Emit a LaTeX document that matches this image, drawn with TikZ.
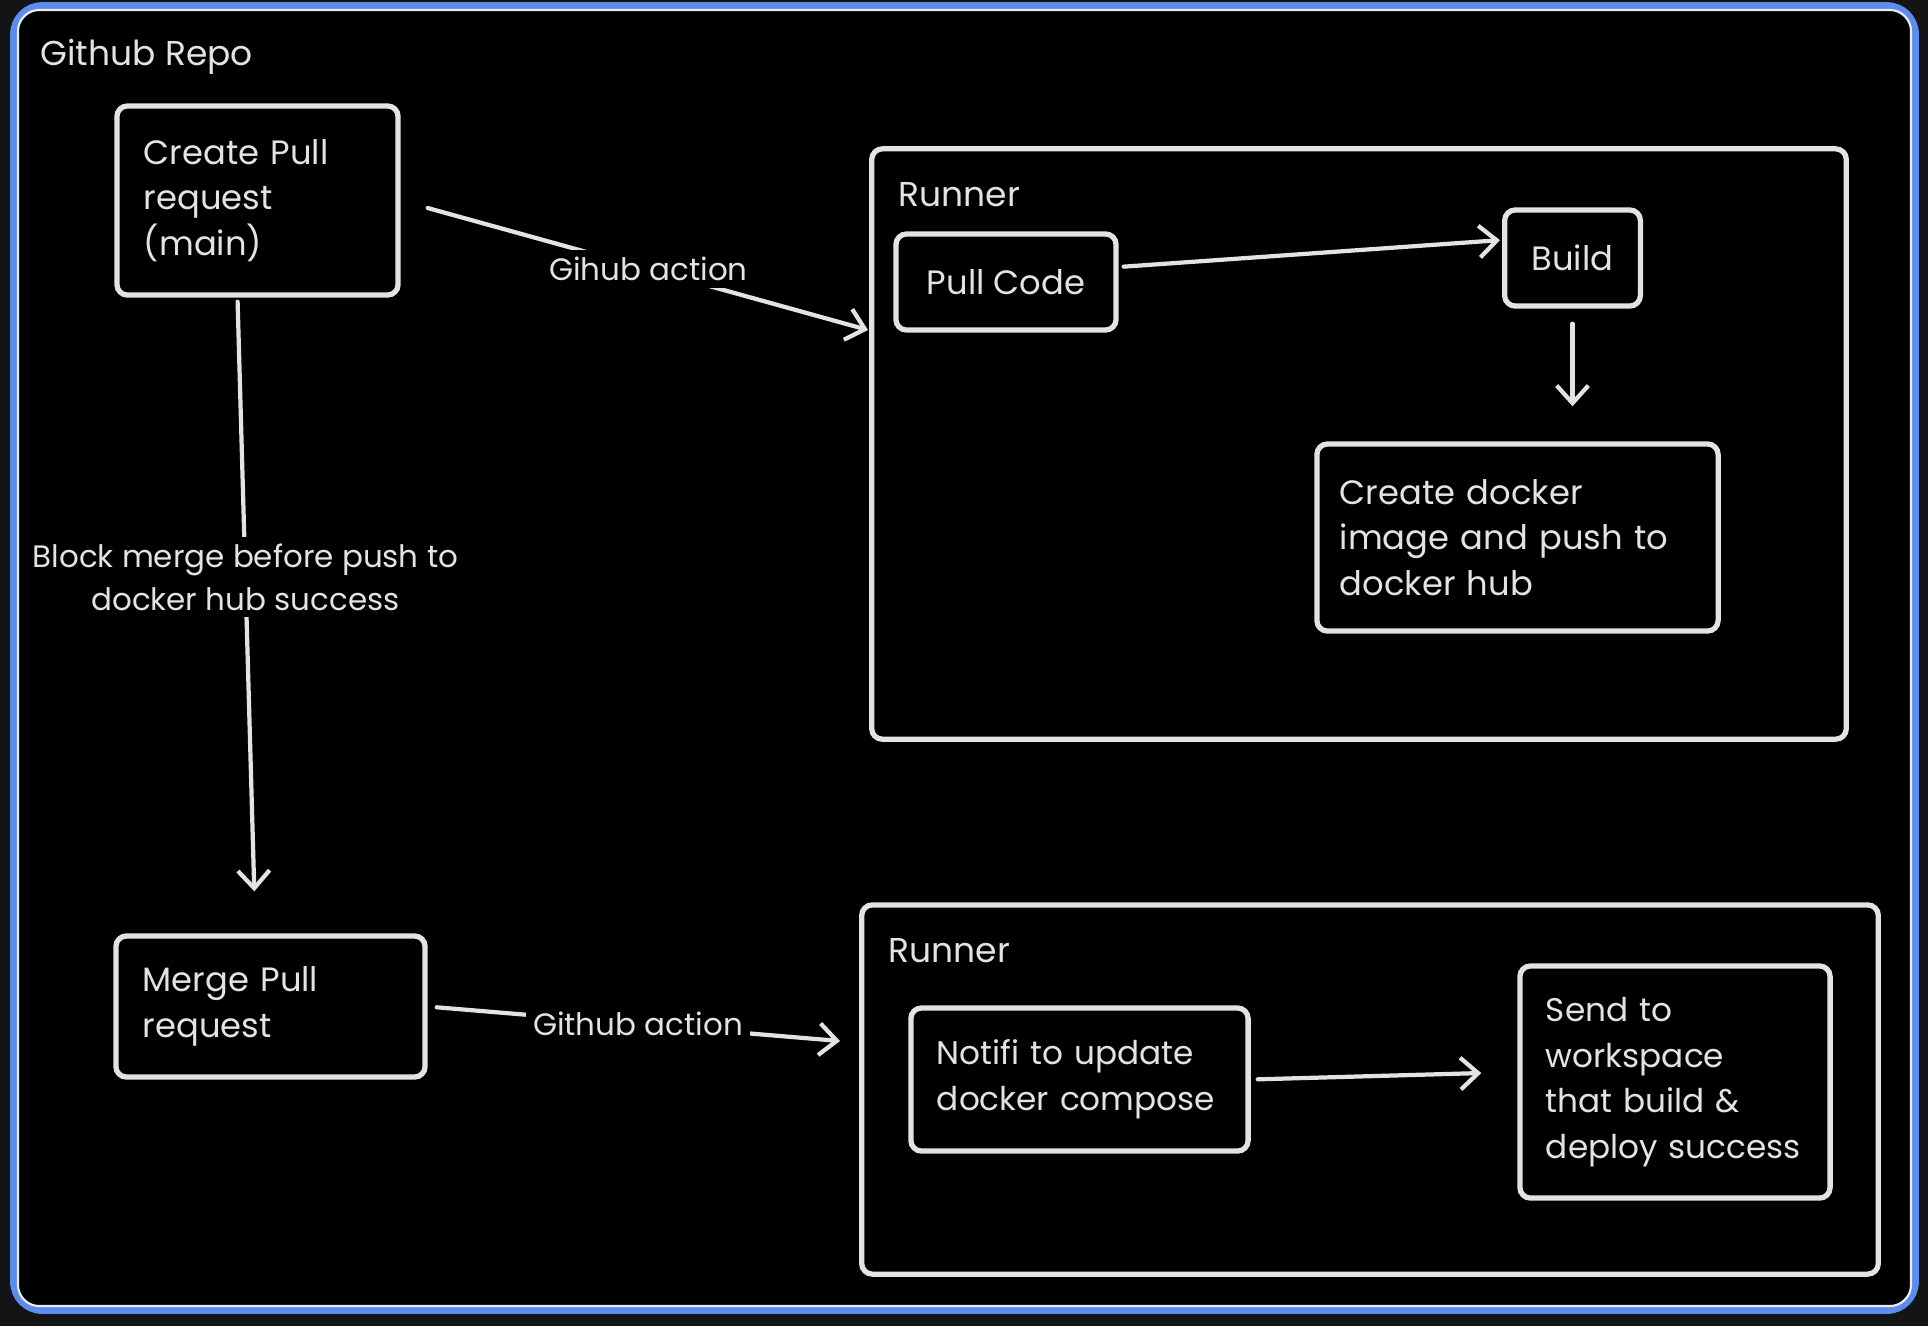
\documentclass[tikz,border=0pt]{standalone}
\usepackage{fontspec}
\setmainfont{Poppins}
\usetikzlibrary{arrows.meta}
\definecolor{chalk}{HTML}{E3E3E3}
\definecolor{frameblue}{HTML}{5B8DEF}
\definecolor{outside}{HTML}{141416}
\tikzset{
        flow box/.style={
          draw=chalk, line width=1.5pt, rounded corners=3pt,
          text=chalk, align=left, inner xsep=0.27cm,
          execute at begin node={\hyphenpenalty=10000},
          font=\fontsize{9.6pt}{13pt}\selectfont
          },
        small text/.style={font=\fontsize{9.3pt}{13pt}\selectfont},
        runner frame/.style={
          draw=chalk, line width=1.5pt, rounded corners=3pt, inner sep=0pt
          },
        frame title/.style={
          text=chalk, anchor=base west, inner sep=0pt,
          font=\fontsize{9.8pt}{13pt}\selectfont
          },
        flow arrow/.style={
          draw=chalk, line width=1.2pt, line cap=round,
          -{Straight Barb[length=5pt, width=9pt, line width=1.2pt]}
          },
        flow label/.style={
          fill=black, text=chalk, align=center, inner sep=2pt,
          font=\fontsize{8.8pt}{12pt}\selectfont
          },
}

\begin{document}
\begin{tikzpicture}[x={(0.01cm,0)}, y={(0,-0.01cm)}]
      \useasboundingbox[fill=outside] (0,0) rectangle (1928,1326);
      % GITHUB REPO FRAME
      \draw[frameblue, line width=2.2pt, fill=black, rounded corners=8pt] (14,6) rectangle (1915,1310);
      \draw[chalk!70, line width=0.6pt, rounded corners=6pt] (18,10) rectangle (1911,1306);
      \node[frame title] (repo) at (40,65) {Github Repo};

      % LEFT COLUMN
      \node[flow box, text width=2.27cm, minimum height=1.89cm] (create) at (257.5,200.5) {Create Pull\\request\\(main)};
      \node[flow box, text width=2.55cm, minimum height=1.41cm] (merge) at (270.5,1006.5) {Merge Pull\\request};

      % RUNNER (build)
      \node[runner frame, minimum width=9.74cm, minimum height=5.90cm] (runnerA) at (1359,444) {};
      \node[frame title] at (898,206) {Runner};
      \node[flow box, align=center, minimum width=2.20cm, minimum height=0.96cm] (pull) at (1006,282) {Pull Code};
      \node[flow box, align=center, minimum width=1.35cm, minimum height=0.96cm] (build) at (1572.5,258) {Build};
      \node[flow box, inner xsep=0.23cm, text width=3.55cm, minimum height=1.87cm] (docker) at (1517.5,537.5) {Create docker\\image and push to\\docker hub};

      % RUNNER (deploy)
      \node[runner frame, minimum width=10.16cm, minimum height=3.69cm] (runnerB) at (1370,1089.5) {};
      \node[frame title] at (888,962) {Runner};
      \node[flow box, small text, inner xsep=0.26cm, text width=2.85cm, minimum height=1.43cm] (notify) at (1079.5,1079.5) {Notifi to update\\docker compose};
      \node[flow box, small text, inner xsep=0.26cm, text width=2.58cm, minimum height=2.32cm] (send) at (1675,1082) {Send to\\workspace\\that build \&\\deploy success};

      % WIRING
      \coordinate (hookA) at (868,330);
      \coordinate (hookB) at (840,1041);
      \draw[flow arrow, shorten <=0.28cm] (create.east) -- (hookA) node[flow label, pos=0.53] {Gihub action};
      \draw[flow arrow, shorten <=0.09cm] (merge.east) -- (hookB) node[flow label, pos=0.51] {Github action};
      \draw[flow arrow, shorten <=0.05cm, shorten >=0.02cm] ([yshift=0.15cm]pull.east) -- ([yshift=0.18cm]build.west);
      \draw[flow arrow, shorten <=0.15cm, shorten >=0.35cm] (build.south) -- (build.south |- docker.north);
      \draw[flow arrow, shorten <=0.04cm, shorten >=0.42cm] ([xshift=-0.2cm]create.south) -- ([xshift=-0.15cm]merge.north)
        node[flow label, pos=0.44] {Block merge before push to\\docker hub success};
      \draw[flow arrow, shorten <=0.07cm, shorten >=0.36cm] (notify.east) -- ([yshift=0.1cm]send.west);
\end{tikzpicture}
\end{document}
